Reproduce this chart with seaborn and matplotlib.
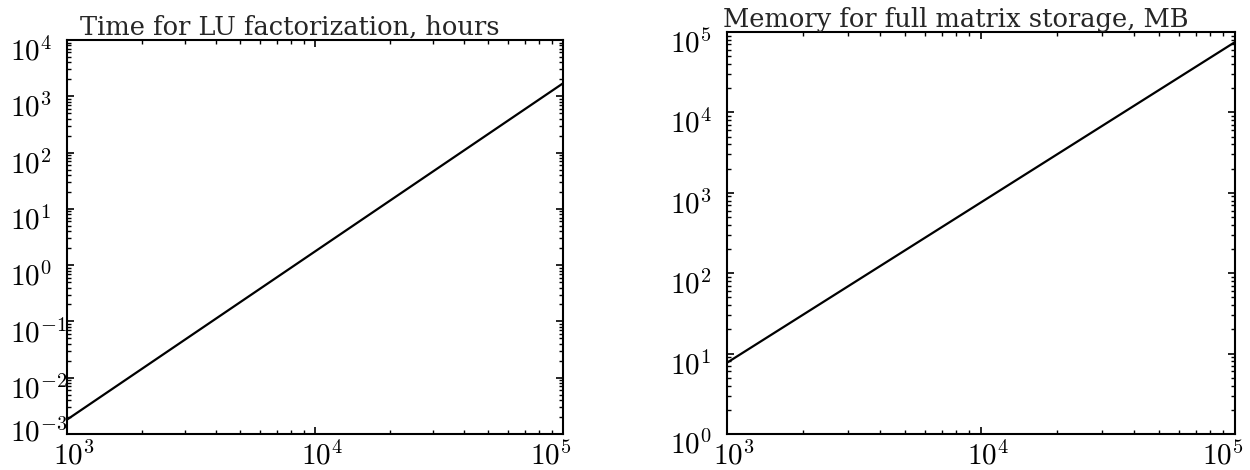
import numpy as np
import pandas as pd
import matplotlib
matplotlib.use("Agg")
import matplotlib.pyplot as plt
import matplotlib.ticker as mticker
from matplotlib.transforms import ScaledTranslation
import seaborn as sns

# ---- data ----
matrix_size = [1e3, 1e4, 1e5]
lu_time_hours = [1.8e-3, 1.75, 1.7e3]
memory_mb = [7.7, 7.6e2, 7.5e4]

titles = ["Time for LU factorization, hours", "Memory for full matrix storage, MB"]

x_ticks = [1e3, 1e4, 1e5]
x_ticklabels = [r"$10^{3}$", r"$10^{4}$", r"$10^{5}$"]
left_y_ticks = [1e-3, 1e-2, 1e-1, 1e0, 1e1, 1e2, 1e3, 1e4]
left_y_ticklabels = [r"$10^{-3}$", r"$10^{-2}$", r"$10^{-1}$", r"$10^{0}$",
                     r"$10^{1}$", r"$10^{2}$", r"$10^{3}$", r"$10^{4}$"]
right_y_ticks = [1e0, 1e1, 1e2, 1e3, 1e4, 1e5]
right_y_ticklabels = [r"$10^{0}$", r"$10^{1}$", r"$10^{2}$", r"$10^{3}$",
                      r"$10^{4}$", r"$10^{5}$"]

sns.set_style("ticks")
plt.rcParams.update({
    "font.family": ["DejaVu Serif"],
    "mathtext.fontset": "cm",
    "axes.linewidth": 1.5,
    "xtick.direction": "in",
    "ytick.direction": "in",
    "xtick.top": True,
    "ytick.right": True,
    "xtick.major.size": 5,
    "ytick.major.size": 5,
    "xtick.minor.size": 3,
    "ytick.minor.size": 3,
    "xtick.major.width": 1.2,
    "ytick.major.width": 1.2,
    "xtick.minor.width": 1.0,
    "ytick.minor.width": 1.0,
    "xtick.color": "black",
    "ytick.color": "black",
    "axes.edgecolor": "black",
})

fig = plt.figure(figsize=(12.5, 4.7), dpi=100)
ax1 = fig.add_axes([67 / 1250, 36 / 470, 496 / 1250, 394 / 470])
ax2 = fig.add_axes([727 / 1250, 36 / 470, 508 / 1250, 402 / 470])

df1 = pd.DataFrame({"n": matrix_size, "v": lu_time_hours})
df2 = pd.DataFrame({"n": matrix_size, "v": memory_mb})

sns.lineplot(data=df1, x="n", y="v", ax=ax1, color="black", linewidth=1.6)
sns.lineplot(data=df2, x="n", y="v", ax=ax2, color="black", linewidth=1.6)


def minor_positions(lo_exp, hi_exp):
    return [m * 10.0 ** k for k in range(lo_exp, hi_exp) for m in range(2, 10)]


panels = [
    (ax1, left_y_ticks, left_y_ticklabels, (-3, 4), titles[0], 4),
    (ax2, right_y_ticks, right_y_ticklabels, (0, 5), titles[1], -8),
]
for ax, yt, ytl, yexp, title, first_dy in panels:
    ax.set_xscale("log")
    ax.set_yscale("log")
    ax.set_xlim(1e3, 1e5)
    ax.set_ylim(10.0 ** yexp[0], 10.0 ** yexp[1])
    ax.set_xticks(x_ticks)
    ax.set_xticklabels(x_ticklabels, fontsize=21)
    ax.set_yticks(yt)
    ax.set_yticklabels(ytl, fontsize=21)
    ax.xaxis.set_minor_locator(mticker.FixedLocator(minor_positions(3, 5)))
    ax.yaxis.set_minor_locator(mticker.FixedLocator(minor_positions(yexp[0], yexp[1])))
    ax.xaxis.set_minor_formatter(mticker.NullFormatter())
    ax.yaxis.set_minor_formatter(mticker.NullFormatter())
    ax.tick_params(axis="y", which="major", pad=41)
    ax.tick_params(axis="x", which="major", pad=5)
    ax.set_xlabel("")
    ax.set_ylabel("")
    ax.set_title(title, fontsize=18.5, x=0.45, pad=1)
    for i, lab in enumerate(ax.get_yticklabels()):
        lab.set_horizontalalignment("left")
        dy = first_dy if i == 0 else -9
        lab.set_transform(lab.get_transform() + ScaledTranslation(0, dy / 100, fig.dpi_scale_trans))
    xlabs = ax.get_xticklabels()
    for i, lab in enumerate(xlabs):
        dx = 7 if i < len(xlabs) - 1 else -12
        lab.set_transform(lab.get_transform() + ScaledTranslation(dx / 100, 0, fig.dpi_scale_trans))
    for s in ax.spines.values():
        s.set_visible(True)

fig.savefig("out.png", dpi=100)
